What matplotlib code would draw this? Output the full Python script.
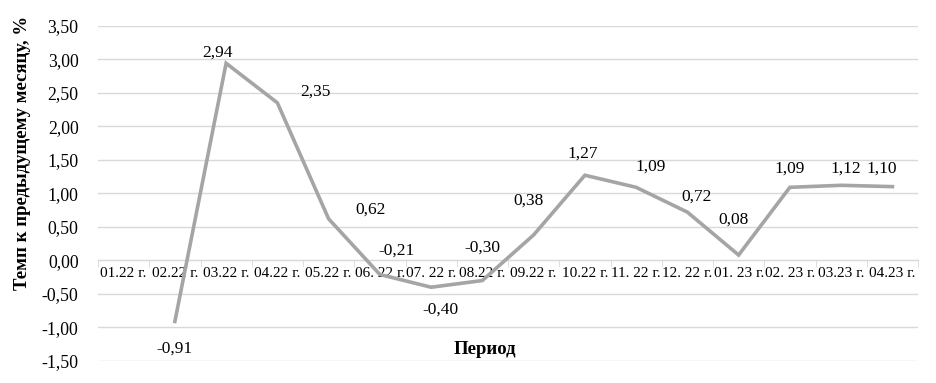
import numpy as np
import matplotlib.pyplot as plt
from matplotlib.ticker import FixedLocator, FuncFormatter

plt.rcParams['font.family'] = ['Liberation Serif', 'DejaVu Serif']

periods = ["01.22 г.", "02.22 г.", "03.22 г.", "04.22 г.", "05.22 г.", "06. 22 г.",
           "07. 22 г.", "08.22 г.", "09.22 г.", "10.22 г.", "11. 22 г.", "12. 22 г.",
           "01. 23 г.", "02. 23 г.", "03.23 г.", "04.23 г."]
rates = [np.nan, -0.91, 2.94, 2.35, 0.62, -0.21, -0.40, -0.30, 0.38, 1.27,
         1.09, 0.72, 0.08, 1.09, 1.12, 1.10]

# label offsets in pixels (dx, dy)
label_offsets = [None, (0, -27), (-9, 11), (38, 11), (42, 9), (17, 24), (9, -22),
                 (0, 33), (-5, 34), (-2, 22), (15, 21), (9, 15), (-5, 35),
                 (0, 19), (5, 17), (-11, 18)]

fig = plt.figure(figsize=(9.36, 3.83), dpi=100)
ax = fig.add_axes([98 / 936, 1 - 361 / 383, 820 / 936, (361 - 25.7) / 383])

x = np.arange(len(periods))
ax.plot(x, rates, color='#a5a5a5', lw=2.6, solid_joinstyle='miter', zorder=3)

for xi, v, off in zip(x, rates, label_offsets):
    if np.isnan(v):
        continue
    ax.annotate(f"{v:.2f}".replace('.', ','), (xi, v), xytext=off,
                textcoords='offset pixels', ha='center', va='center', fontsize=12.5)

ax.set_xlim(-0.5, len(periods) - 0.5)
ax.set_ylim(-1.5, 3.5)
ax.set_yticks(np.arange(-1.5, 3.51, 0.5))
ax.yaxis.set_major_formatter(FuncFormatter(lambda v, p: f"{v:.2f}".replace('.', ',')))
ax.grid(axis='y', color='#d9d9d9', lw=1)
ax.set_axisbelow(True)

for s in ['left', 'right', 'top']:
    ax.spines[s].set_visible(False)
ax.spines['bottom'].set_position(('data', 0))
ax.spines['bottom'].set_color('#d9d9d9')

ax.set_xticks(x)
ax.set_xticklabels(periods, fontsize=11)
ax.xaxis.set_minor_locator(FixedLocator(np.arange(-0.5, len(periods), 1)))
ax.tick_params(axis='x', which='major', length=0, pad=5)
ax.tick_params(axis='x', which='minor', length=5, color='#d9d9d9')
ax.tick_params(axis='y', length=0, labelsize=12.8, pad=14)

ax.set_ylabel("Темп к предыдущему месяцу, %", fontsize=13.5, fontweight='bold')
ax.yaxis.set_label_coords(-0.082, 0.62)
ax.text(0.472, 0.033, "Период", transform=ax.transAxes, ha='center', va='center',
        fontsize=13.5, fontweight='bold')

fig.savefig("out.png", dpi=100)
